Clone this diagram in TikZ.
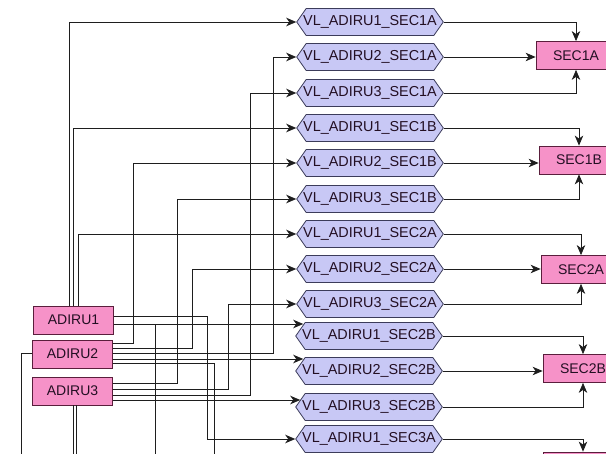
\documentclass[tikz,border=0pt]{standalone}
\usepackage{fontspec}
\setmainfont{Liberation Sans}
\usetikzlibrary{shapes.symbols,arrows.meta}
\definecolor{boxpink}{RGB}{246,146,200}
\definecolor{boxedge}{RGB}{90,30,60}
\definecolor{hexfill}{RGB}{200,200,245}
\definecolor{hexedge}{RGB}{60,60,90}
\definecolor{wirecol}{RGB}{30,30,30}
\definecolor{txt}{RGB}{35,15,35}
\begin{document}
\begin{tikzpicture}[x=1pt,y=-1pt,
  unit/.style={draw=boxedge, fill=boxpink, line width=0.8pt, minimum width=80pt,
    minimum height=28pt, inner sep=0pt, font=\fontsize{14}{16}\selectfont, text=txt},
  vl/.style={signal, signal to=east and west, signal pointer angle=110,
    draw=hexedge, fill=hexfill, line width=0.8pt, minimum height=27pt,
    inner xsep=-3pt, inner ysep=0pt, font=\fontsize{14.4}{16}\selectfont, text=txt},
  wire/.style={draw=wirecol, line width=0.75pt},
  arr/.style={wire, -{Stealth[length=10pt,width=8.5pt,inset=3pt]}},
]
\useasboundingbox[fill=white] (0,0) rectangle (606,454);

% sources
\node[unit] (a1) at (73.5,320) {ADIRU1};
\node[unit] (a2) at (72.5,354) {ADIRU2};
\node[unit] (a3) at (72.5,391) {ADIRU3};

% virtual links
\node[vl] (h1)  at (370,22)  {VL\_ADIRU1\_SEC1A};
\node[vl] (h2)  at (370,57)  {VL\_ADIRU2\_SEC1A};
\node[vl] (h3)  at (370,93)  {VL\_ADIRU3\_SEC1A};
\node[vl] (h4)  at (370,128) {VL\_ADIRU1\_SEC1B};
\node[vl] (h5)  at (370,163) {VL\_ADIRU2\_SEC1B};
\node[vl] (h6)  at (370,199) {VL\_ADIRU3\_SEC1B};
\node[vl] (h7)  at (370,234) {VL\_ADIRU1\_SEC2A};
\node[vl] (h8)  at (370,269) {VL\_ADIRU2\_SEC2A};
\node[vl] (h9)  at (370,304) {VL\_ADIRU3\_SEC2A};
\node[vl] (h10) at (369,336) {VL\_ADIRU1\_SEC2B};
\node[vl] (h11) at (369,371) {VL\_ADIRU2\_SEC2B};
\node[vl] (h12) at (369,407) {VL\_ADIRU3\_SEC2B};
\node[vl] (h13) at (369,439) {VL\_ADIRU1\_SEC3A};

% sinks
\node[unit] (s1a) at (576,55.5)  {SEC1A};
\node[unit] (s1b) at (579,160)   {SEC1B};
\node[unit] (s2a) at (581,269.5) {SEC2A};
\node[unit] (s2b) at (583,368.5) {SEC2B};
\node[unit] (s3a) at (583,466)   {};

% ports and off-page ends
\coordinate (p10) at ([xshift=8pt,yshift=12pt]h10.west);
\coordinate (p11) at ([xshift=8pt,yshift=12pt]h11.west);
\coordinate (p12) at ([xshift=5pt,yshift=7pt]h12.west);
\coordinate (o1) at (155,470);
\coordinate (o2) at (214,470);
\coordinate (o3) at (21,470);
\coordinate (o4) at (73,470);
\coordinate (o5) at (76.5,470);

% ADIRU1
\draw[arr] ([xshift=-4.5pt]a1.north) |- (h1.west);
\draw[arr] ([xshift=-0.5pt]a1.north) |- (h4.west);
\draw[arr] ([xshift=4.5pt]a1.north) |- (h7.west);
\draw[arr] ([yshift=4pt]a1.east) -- ++(93,0) |- (h13.west);
\draw[arr] ([yshift=-4pt]a1.east) -- (p10);
\draw[wire] ([yshift=-4pt]a1.east) -| (o1);

% ADIRU2
\draw[arr] ([yshift=11pt]a2.east) -- ++(20.5,0) |- (h5.west);
\draw[arr] ([yshift=6pt]a2.east) -- ++(79.5,0) |- (h8.west);
\draw[arr] ([yshift=1pt]a2.east) -- ++(160.5,0) |- (h2.west);
\draw[arr] ([yshift=-5pt]a2.east) -- (p11);
\draw[wire] ([yshift=-9pt]a2.east) -| (o2);
\draw[wire] ([yshift=1pt]a2.west) -| (o3);

% ADIRU3
\draw[arr] ([yshift=8pt]a3.east) -- ++(64.5,0) |- (h6.west);
\draw[arr] ([yshift=2pt]a3.east) -- ++(115.5,0) |- (h9.west);
\draw[arr] ([yshift=-4pt]a3.east) -- ++(137.5,0) |- (h3.west);
\draw[arr] ([yshift=-9pt]a3.east) -- (p12);
\draw[wire] (a3.south -| o4) -- (o4);
\draw[wire] (a3.south -| o5) -- (o5);

% VLs to SECs
\draw[arr] (h1.east) -| (s1a.north);
\draw[arr] (h2.east) -- (h2.east -| s1a.west);
\draw[arr] (h3.east) -| (s1a.south);
\draw[arr] (h4.east) -| (s1b.north);
\draw[arr] (h5.east) -- (h5.east -| s1b.west);
\draw[arr] (h6.east) -| (s1b.south);
\draw[arr] (h7.east) -| (s2a.north);
\draw[arr] (h8.east) -- (h8.east -| s2a.west);
\draw[arr] (h9.east) -| (s2a.south);
\draw[arr] (h10.east) -| (s2b.north);
\draw[arr] (h11.east) -- (h11.east -| s2b.west);
\draw[arr] (h12.east) -| (s2b.south);
\draw[arr] (h13.east) -| (s3a.north);
\end{tikzpicture}
\end{document}
